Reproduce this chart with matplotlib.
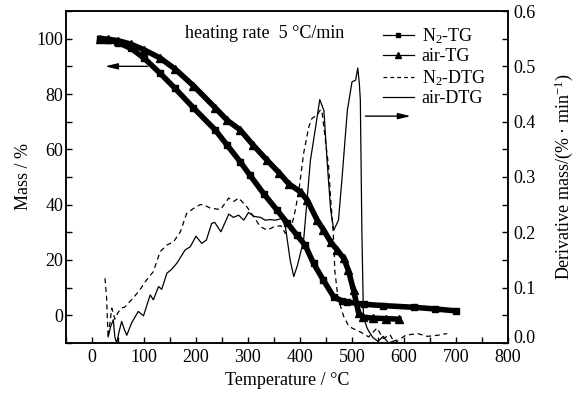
import numpy as np
import matplotlib
matplotlib.use("Agg")
import matplotlib.pyplot as plt
import matplotlib.transforms as mtransforms
from matplotlib.lines import Line2D
from matplotlib.ticker import MultipleLocator

plt.rcParams['font.family'] = ['Liberation Serif', 'DejaVu Serif']
plt.rcParams['mathtext.fontset'] = 'custom'
plt.rcParams['mathtext.rm'] = 'Liberation Serif'
plt.rcParams['mathtext.it'] = 'Liberation Serif:italic'
plt.rcParams['font.size'] = 13

# TG curves (mass %, left axis)
n2_tg_temp = [15, 30, 50, 75, 100, 131, 160, 195, 237, 260, 285, 304, 330, 356, 375,
              394, 410, 426, 445, 465, 480, 491, 523, 560, 619, 660, 700]
n2_tg_mass = [100, 99.6, 98.6, 96.5, 93, 87.5, 82, 75, 67, 61.5, 55.5, 50.6, 44, 38, 33.5,
              29, 25.3, 18.8, 12.7, 6.6, 5.3, 4.8, 4.0, 3.5, 2.9, 2.3, 1.6]

air_tg_temp = [15, 30, 50, 75, 100, 131, 160, 195, 237, 260, 285, 310, 337, 360, 378,
               401, 414, 433, 445, 459, 472, 484, 493, 503, 513, 522, 540, 565, 590]
air_tg_mass = [100, 99.8, 99.3, 98, 96, 93, 89, 83, 75, 70.5, 67, 61.5, 56, 51.5, 47.6,
               44.6, 41.6, 34.4, 31, 26.5, 23.5, 20.6, 16.3, 9, 0.7, -0.7, -1.0, -1.2, -1.4]

# DTG curves (%/min, right axis)
n2_dtg_temp = [25, 28, 31, 35, 38, 44, 50, 57, 63, 79, 92, 105, 118, 131, 144, 157, 170,
               182, 195, 208, 214, 227, 247, 263, 273, 282, 298, 311, 324, 337, 350, 363,
               372, 382, 391, 398, 407, 417, 423, 433, 438, 442, 448, 455, 459, 464, 467,
               472, 478, 484, 494, 500, 516, 532, 548, 560, 573, 582, 603, 626, 645, 665, 683]
n2_dtg_rate = [0.117, 0.083, 0.01, 0.04, 0.063, 0.043, 0.055, 0.063, 0.065, 0.081, 0.096,
               0.114, 0.129, 0.165, 0.177, 0.183, 0.201, 0.234, 0.243, 0.25, 0.25, 0.244,
               0.241, 0.262, 0.256, 0.262, 0.246, 0.228, 0.21, 0.204, 0.21, 0.212, 0.198,
               0.204, 0.24, 0.277, 0.343, 0.391, 0.406, 0.412, 0.42, 0.421, 0.373, 0.319,
               0.26, 0.198, 0.13, 0.09, 0.066, 0.048, 0.03, 0.027, 0.02, 0.011, 0.027,
               0.008, 0.015, 0.0, 0.014, 0.017, 0.012, 0.014, 0.017]

air_dtg_temp = [31, 36, 41, 44, 47.5, 52, 57, 62, 67, 76, 89, 99, 112, 118, 128, 134, 144,
                153, 163, 179, 189, 200, 211, 220, 230, 236, 248, 263, 272, 282, 292, 301,
                311, 324, 333, 343, 353, 365, 372, 381, 388, 395, 407, 420, 430, 438, 446,
                452, 459, 465, 474, 481, 491, 500, 507, 511, 514, 516, 519, 522, 529, 533,
                540, 550, 560, 570, 585]
air_dtg_rate = [0.011, 0.03, 0.042, 0.01, 0.0, 0.02, 0.039, 0.025, 0.014, 0.036, 0.057,
                0.049, 0.087, 0.078, 0.102, 0.097, 0.126, 0.133, 0.144, 0.168, 0.174, 0.193,
                0.18, 0.186, 0.216, 0.218, 0.201, 0.233, 0.227, 0.231, 0.222, 0.236, 0.229,
                0.227, 0.222, 0.223, 0.222, 0.225, 0.21, 0.15, 0.12, 0.14, 0.186, 0.33, 0.39,
                0.44, 0.42, 0.33, 0.24, 0.204, 0.222, 0.30, 0.42, 0.472, 0.475, 0.497, 0.47,
                0.44, 0.2, 0.047, 0.027, 0.02, 0.01, 0.003, 0.012, 0.0, 0.005]

fig = plt.figure(figsize=(5.85, 3.99), dpi=100)
ax = fig.add_axes([0.1128, 0.1404, 0.7556, 0.832])
ax2 = ax.twinx()

# thick line + dense markers to mimic the marker band of the TG curves
ax.plot(n2_tg_temp, n2_tg_mass, color='k', lw=4, marker='s', ms=5)
ax.plot(air_tg_temp, air_tg_mass, color='k', lw=4, marker='^', ms=5.5)
ax2.plot(n2_dtg_temp, n2_dtg_rate, color='k', lw=0.9, ls=(0, (4, 3)))
ax2.plot(air_dtg_temp, air_dtg_rate, color='k', lw=0.9)

ax.set_xlim(-50, 800)
ax.set_ylim(-10, 110)
ax2.set_ylim(0, 0.6)

ax.xaxis.set_major_locator(MultipleLocator(100))
ax.xaxis.set_minor_locator(MultipleLocator(50))
ax.yaxis.set_major_locator(MultipleLocator(20))
ax.yaxis.set_minor_locator(MultipleLocator(10))
ax2.set_yticks([0.0, 0.1, 0.2, 0.3, 0.4, 0.5, 0.6])
ax2.set_yticklabels(['0.0', '0.1', '0.2', '0.3', '0.4', '0.5', '0.6'])
ax2.yaxis.set_minor_locator(MultipleLocator(0.05))

ax.tick_params(which='both', direction='in', length=4.5, width=1, top=False, right=False)
ax.tick_params(axis='x', pad=4)
ax.tick_params(axis='y', pad=2)
ax2.tick_params(which='both', direction='in', length=4.5, width=1, pad=4)
for a in (ax, ax2):
    for s in a.spines.values():
        s.set_linewidth(1.1)

# lift the 0.0 label a little so it clears the 800 label
lbl0 = ax2.get_yticklabels()[0]
lbl0.set_transform(lbl0.get_transform() + mtransforms.ScaledTranslation(0, 5 / 72, fig.dpi_scale_trans))

ax.set_xlabel('Temperature / °C', labelpad=5)
ax.set_ylabel('Mass / %', labelpad=3)
ax2.set_ylabel('Derivative mass/(% · min$^{-1}$)', labelpad=12)

ax.text(179, 102, 'heating rate  5 °C/min', ha='left', va='center')

ax.annotate('', xy=(25, 90), xytext=(107, 90),
            arrowprops=dict(arrowstyle='-|>,head_length=0.75,head_width=0.18',
                            color='k', lw=1, mutation_scale=10, shrinkA=0, shrinkB=0))
ax2.annotate('', xy=(613, 0.41), xytext=(526, 0.41),
             arrowprops=dict(arrowstyle='-|>,head_length=0.75,head_width=0.18',
                             color='k', lw=1, mutation_scale=10, shrinkA=0, shrinkB=0))

handles = [
    Line2D([], [], color='k', lw=0.9, marker='s', ms=3.5),
    Line2D([], [], color='k', lw=0.9, marker='^', ms=4),
    Line2D([], [], color='k', lw=0.9, ls=(0, (3, 2.5))),
    Line2D([], [], color='k', lw=0.9),
]
labels = ['N$_2$-TG', 'air-TG', 'N$_2$-DTG', 'air-DTG']
ax2.legend(handles, labels, loc='upper left', bbox_to_anchor=(0.717, 0.955),
           frameon=False, borderpad=0, borderaxespad=0, handlelength=1.7,
           handletextpad=0.45, labelspacing=0.15)

fig.savefig('out.png', dpi=100)
